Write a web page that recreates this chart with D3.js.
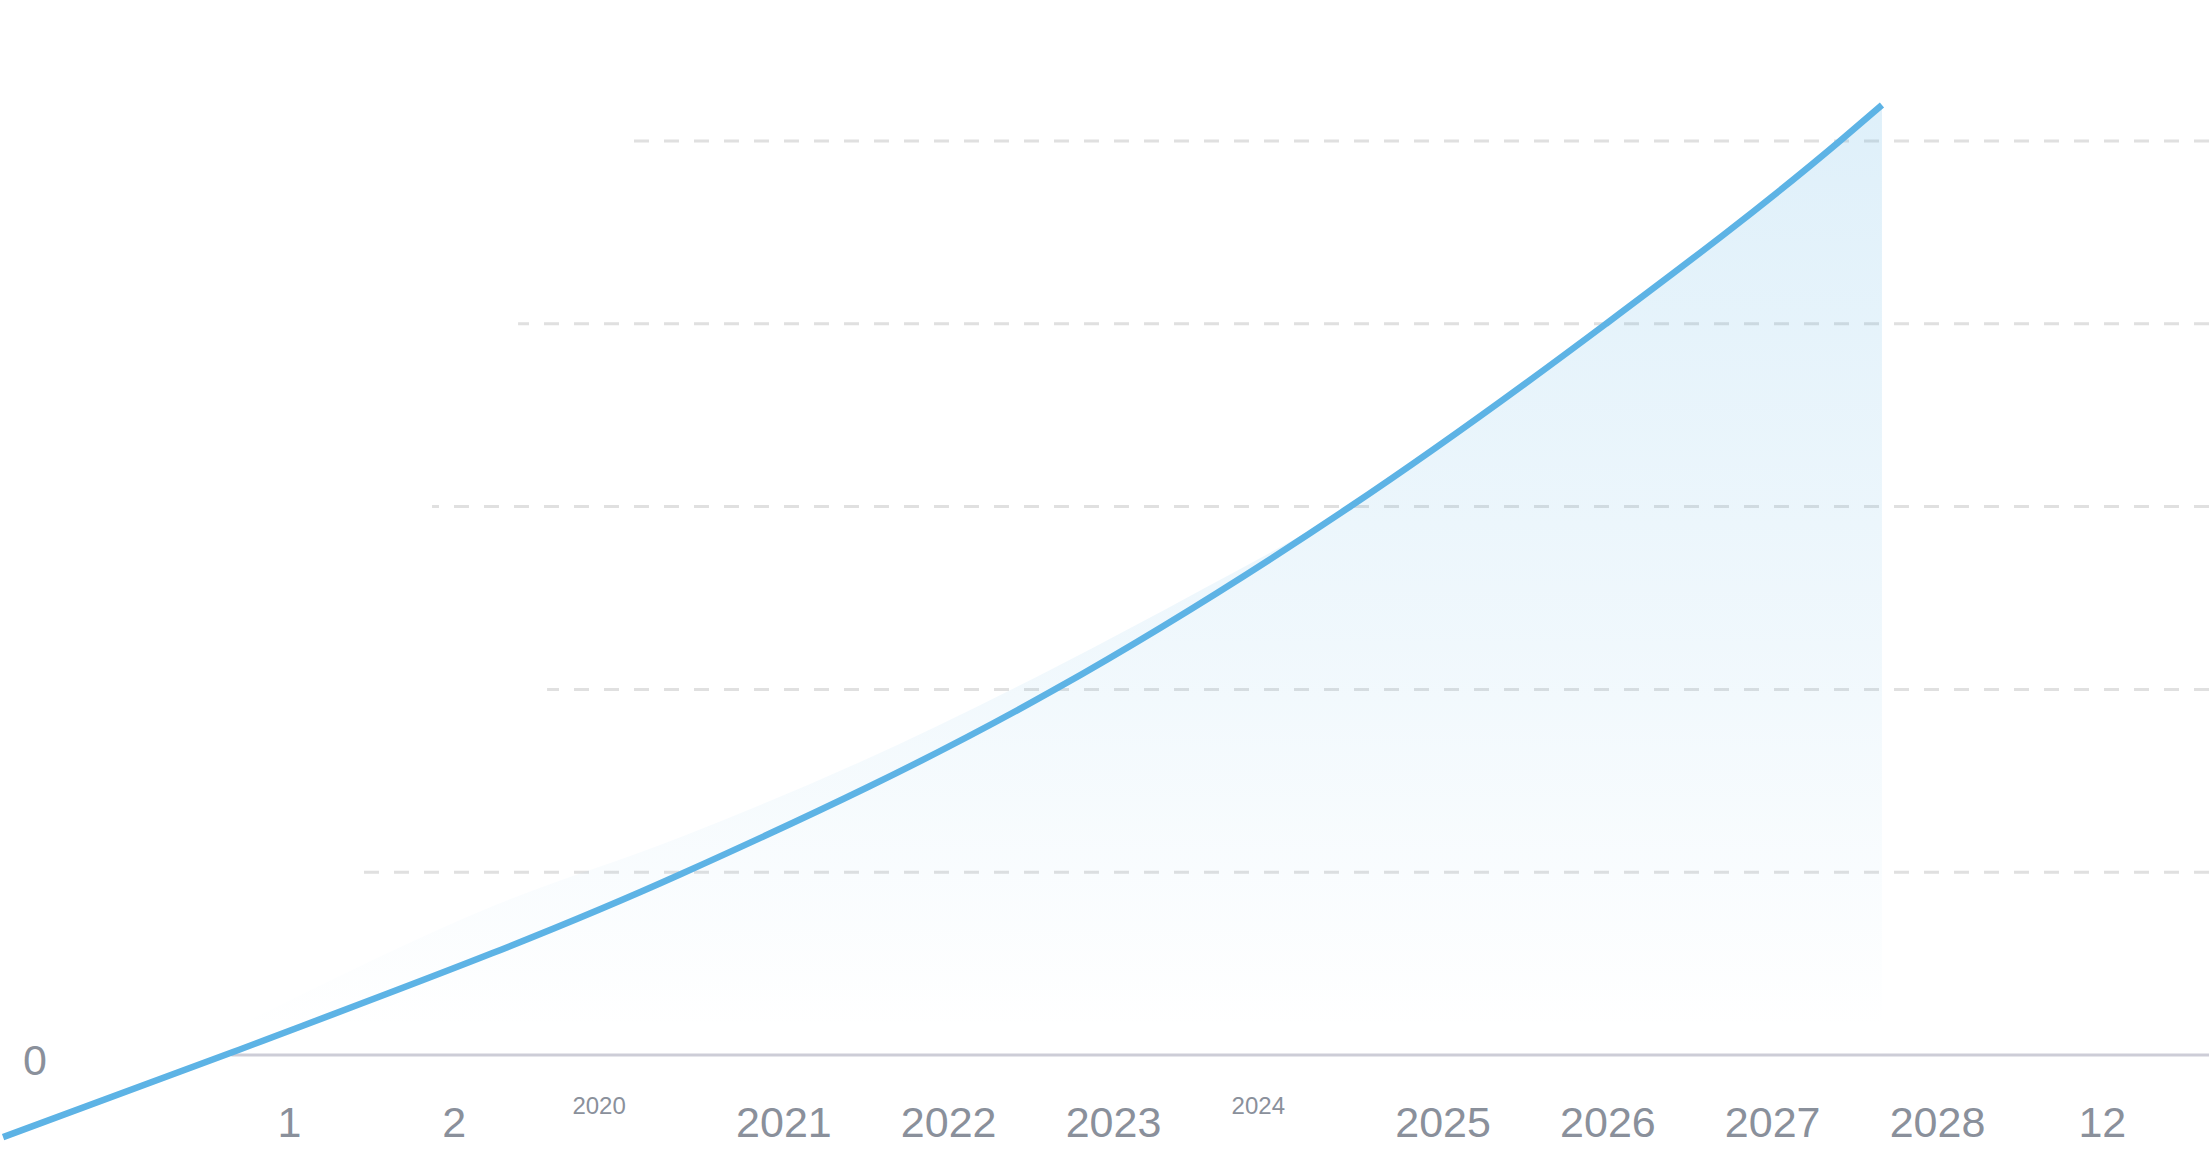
<!DOCTYPE html>
<html>
<head>
<meta charset="utf-8">
<script src="https://cdn.jsdelivr.net/npm/d3@7"></script>
<style>
  html, body { margin: 0; padding: 0; background: #fff; }
  svg { display: block; font-family: "Liberation Sans", Arial, Helvetica, sans-serif; }
</style>
</head>
<body>
<div id="chart"></div>
<script>
// x positions are in tick-slot units (0 = first tick "1")
const tickLabels = ["1", "2", "2020", "2021", "2022", "2023", "2024", "2025", "2026", "2027", "2028", "12"];
const smallLabels = ["2020", "2024"];

const lineX = [-1.735, -0.34, 2.379, 4.642, 6.426, 7.99, 9.411, 9.666];
const lineY = [-0.449, 0.016, 0.99, 1.997, 2.992, 3.999, 5.0, 5.197];

// the shaded area's upper edge runs a little above the line in the middle
const areaX = [-1.735, -0.34, 1.268, 2.379, 3.434, 4.642, 5.546, 6.426, 7.99, 9.411, 9.666];
const areaY = [-0.449, 0.15, 0.826, 1.193, 1.59, 2.117, 2.549, 2.992, 3.999, 5.0, 5.197];

const gridValues = [1, 2, 3, 4, 5];
const gridStarts = [0.443, 1.566, 0.868, 1.39, 2.008];
const axisStart = -0.35;

const width = 2209;
const height = 1158;

const svg = d3.select("#chart").append("svg")
    .attr("width", width)
    .attr("height", height)
    .attr("viewBox", [0, 0, width, height]);

const x = d3.scaleLinear()
    .domain([0, 11])
    .range([289, 289 + 164.8 * 11]);

const y = d3.scaleLinear()
    .domain([0, 5])
    .range([1055, 141]);

const linePoints = lineX.map((d, i) => ({ x: d, y: lineY[i] }));
const areaPoints = areaX.map((d, i) => ({ x: d, y: areaY[i] }));

// gradient for the area
const defs = svg.append("defs");
const grad = defs.append("linearGradient")
    .attr("id", "areaFill")
    .attr("gradientUnits", "userSpaceOnUse")
    .attr("x1", 0).attr("x2", 0)
    .attr("y1", y(5.2)).attr("y2", 1030);
grad.append("stop").attr("offset", "0%").attr("stop-color", "#5db3e5").attr("stop-opacity", 0.2);
grad.append("stop").attr("offset", "55%").attr("stop-color", "#5db3e5").attr("stop-opacity", 0.1);
grad.append("stop").attr("offset", "100%").attr("stop-color", "#5db3e5").attr("stop-opacity", 0);

// dashed gridlines, drawn from the right edge inwards
svg.append("g")
    .selectAll("line")
    .data(gridValues)
    .join("line")
    .attr("x1", width)
    .attr("x2", (d, i) => x(gridStarts[i]))
    .attr("y1", d => y(d))
    .attr("y2", d => y(d))
    .attr("stroke", "#e0e0e0")
    .attr("stroke-width", 3)
    .attr("stroke-dasharray", "15,15");

// baseline
svg.append("line")
    .attr("x1", x(axisStart))
    .attr("x2", width)
    .attr("y1", y(0))
    .attr("y2", y(0))
    .attr("stroke", "#cdcdd7")
    .attr("stroke-width", 3);

// area
const area = d3.area()
    .x(d => x(d.x))
    .y0(y(0))
    .y1(d => y(d.y))
    .curve(d3.curveMonotoneX);

svg.append("path")
    .datum(areaPoints)
    .attr("d", area)
    .attr("fill", "url(#areaFill)");

// line
const line = d3.line()
    .x(d => x(d.x))
    .y(d => y(d.y))
    .curve(d3.curveMonotoneX);

svg.append("path")
    .datum(linePoints)
    .attr("d", line)
    .attr("fill", "none")
    .attr("stroke", "#5db3e5")
    .attr("stroke-width", 6.5);

// x axis labels
const xAxis = d3.axisBottom(x)
    .tickValues(d3.range(tickLabels.length))
    .tickFormat(i => tickLabels[i])
    .tickSize(0);

const axisG = svg.append("g")
    .attr("transform", `translate(0,${y(0)})`)
    .call(xAxis);

axisG.select(".domain").remove();
axisG.selectAll("text")
    .attr("dy", null)
    .attr("y", d => smallLabels.includes(tickLabels[d]) ? 59 : 82)
    .attr("dx", d => smallLabels.includes(tickLabels[d]) ? -20 : 0)
    .attr("fill", "#8a909b")
    .style("font-family", "'Liberation Sans', Arial, Helvetica, sans-serif")
    .style("font-size", d => smallLabels.includes(tickLabels[d]) ? "24px" : "43px");

// y zero label
svg.append("text")
    .attr("x", 35)
    .attr("y", y(0) + 20)
    .attr("text-anchor", "middle")
    .attr("fill", "#8a909b")
    .style("font-size", "43px")
    .text("0");
</script>
</body>
</html>
